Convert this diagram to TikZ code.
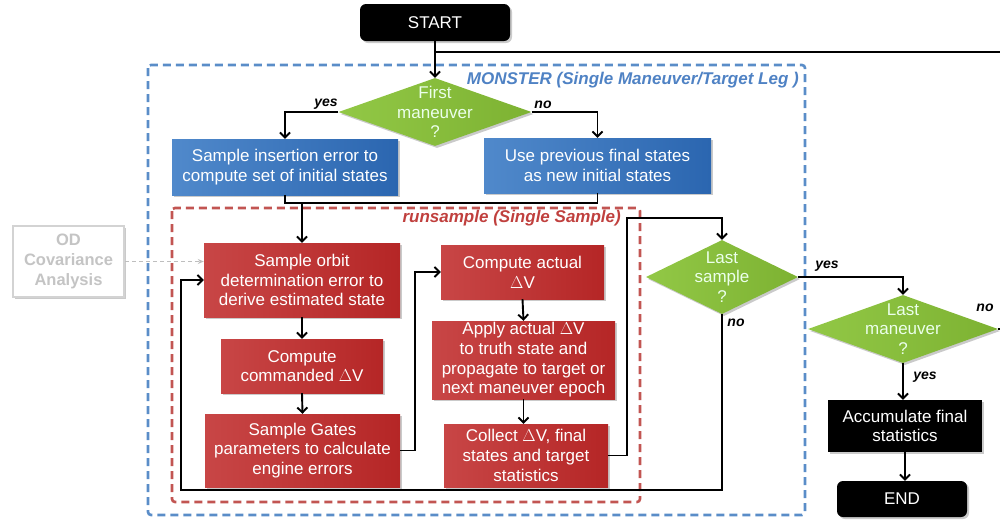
\documentclass[tikz,border=0pt]{standalone}
\usepackage{fontspec}
\setmainfont{Liberation Sans}
\usetikzlibrary{shapes.geometric,arrows.meta,shadows}
\definecolor{bluel}{HTML}{5089CB}
\definecolor{bluer}{HTML}{2B66B0}
\definecolor{redl}{HTML}{C84646}
\definecolor{redr}{HTML}{B52626}
\definecolor{greenl}{HTML}{92C846}
\definecolor{greenr}{HTML}{7DB232}
\definecolor{bluedash}{HTML}{5A8DC8}
\definecolor{reddash}{HTML}{C25552}
\definecolor{odgray}{HTML}{D3D3D3}
\definecolor{odtext}{HTML}{C4C4C4}
\definecolor{labblue}{HTML}{4F82C4}
\definecolor{labred}{HTML}{C0403E}
\tikzset{
  every node/.style={font=\fontsize{17}{19.7}\selectfont, align=center, inner sep=0pt},
  shad/.style={drop shadow={shadow xshift=2pt, shadow yshift=-2pt, opacity=0.35, fill=black!60}},
  bluebox/.style={shad, left color=bluel, right color=bluer, text=white},
  redbox/.style={shad, left color=redl, right color=redr, text=white},
  blackbox/.style={shad, fill=black, text=white},
  termbox/.style={blackbox, rounded corners=6pt},
  dia/.style={shape=diamond, shad, left color=greenl, right color=greenr},
  diatext/.style={text=white!92!green},
  arr/.style={line width=1.9pt, -{Straight Barb[length=5pt,width=10pt]}},
  conn/.style={line width=1.9pt},
  lbl/.style={font=\fontsize{14}{16}\selectfont\bfseries\itshape},
  grp/.style={line width=2.6pt, dash pattern=on 8pt off 5pt, rounded corners=3pt},
  odbox/.style={draw=odgray, line width=2.5pt, fill=white, text=odtext, font=\fontsize{16.5}{20}\selectfont\bfseries, shad},
  odarr/.style={draw=odgray!90!black, line width=1pt, dash pattern=on 4pt off 3pt, -{Stealth[length=6pt,width=5pt]}}
}
\begin{document}
\begin{tikzpicture}[x=1pt,y=-1pt]
\useasboundingbox (0,0) rectangle (1000,520);
\clip (0,0) rectangle (1000,520);
% group frames
\draw[grp, draw=bluedash] (148,65) rectangle (805,515);
\draw[grp, draw=reddash] (172,208) rectangle (640,502);
\node[anchor=east, text=labblue, font=\fontsize{17}{19}\selectfont\bfseries\itshape] (mlab) at (799,80) {MONSTER (Single Maneuver/Target Leg )};
\node[anchor=east, text=labred, font=\fontsize{17}{19}\selectfont\bfseries\itshape] (rlab) at (621,218) {runsample (Single Sample)};

% nodes
\node[termbox, minimum width=150, minimum height=37] (s) at (435,22.5) {START};
\node[dia, minimum width=193, minimum height=68] (fm) at (435,112) {};
\node[diatext] (fmt) at (fm) {First\\maneuver\\?};
\node[bluebox, minimum width=226, minimum height=56] (b1) at (285,167) {Sample insertion error to\\compute set of initial states};
\node[bluebox, minimum width=227, minimum height=55] (b2) at (597.5,165.5) {Use previous final states\\as new initial states};

\node[redbox, minimum width=196, minimum height=74] (r1) at (302,280) {Sample orbit\\determination error to\\derive estimated state};
\node[redbox, minimum width=162, minimum height=54] (r2) at (302,366) {Compute\\commanded $\Delta$V};
\node[redbox, minimum width=195, minimum height=73] (r3) at (302.5,450.5) {Sample Gates\\parameters to calculate\\engine errors};
\node[redbox, minimum width=163, minimum height=54] (r4) at (522.5,272) {Compute actual\\$\Delta$V};
\node[redbox, minimum width=183, minimum height=78] (r5) at (523.5,360) {Apply actual $\Delta$V\\to truth state and\\propagate to target or\\next maneuver epoch};
\node[redbox, minimum width=164, minimum height=63] (r6) at (526,455.5) {Collect $\Delta$V, final\\states and target\\statistics};

\node[dia, minimum width=152, minimum height=74] (ls) at (722,277) {};
\node[diatext] (lst) at (ls) {Last\\sample\\?};
\node[dia, minimum width=190, minimum height=68] (lm) at (903,329) {};
\node[diatext] (lmt) at (lm) {Last\\maneuver\\?};

\node[blackbox, minimum width=154, minimum height=52] (acc) at (905,426) {Accumulate final\\statistics};
\node[termbox, minimum width=130, minimum height=36] (end) at (902,499) {END};

\node[odbox, minimum width=111, minimum height=71] (od) at (68.5,261.5) {OD\\Covariance\\Analysis};

% coordinates
\coordinate (j) at (435,52);
\coordinate (mj) at (302,203);
\coordinate (c1) at (627,218);
\coordinate (c2) at (181,490);

% connectors
\draw[arr] (s.south) -- (fm.north);
\draw[conn] (lm.east) -- ++(10,0) |- (j);
\draw[arr] (fm.west) -| (b1.north);
\draw[arr] (fm.east) -| (b2.north);
\draw[conn] (b1.south) |- (mj) -| (b2.south);
\draw[arr] (mj) -- (r1.north);
\draw[arr] (r1.south) -- (r2.north);
\draw[arr] (r2.south) -- (r3.north);
\draw[arr] (r3.east) -- ++(15,0) |- (r4.west);
\draw[arr] (r4.south) -- (r5.north);
\draw[arr] (r5.south) -- (r6.north -| r5.south);
\draw[arr] (r6.east) -| (c1) -| (ls.north);
\draw[arr] (ls.south) |- (c2) |- (r1.west);
\draw[arr] (ls.east) -| (lm.north);
\draw[arr] (lm.south) -- (acc.north -| lm.south);
\draw[arr] (acc.south) -- (end.north -| acc.south);
\draw[odarr] (od.east) -- (od.east -| r1.west);

% labels
\node[lbl] (ly1) at (326,104) {yes};
\node[lbl] (ln1) at (543,105) {no};
\node[lbl] (ln2) at (736,323) {no};
\node[lbl] (ly2) at (827,266) {yes};
\node[lbl] (ln3) at (985,308) {no};
\node[lbl] (ly3) at (925,377) {yes};
\end{tikzpicture}
\end{document}
